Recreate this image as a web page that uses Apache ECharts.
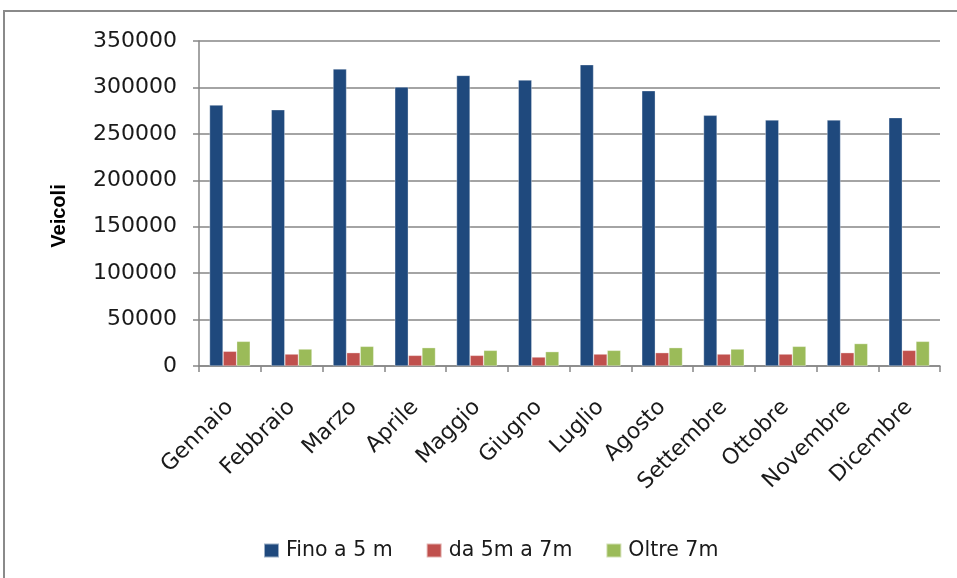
<!DOCTYPE html>
<html>
<head>
<meta charset="utf-8">
<script src="https://cdn.jsdelivr.net/npm/echarts@6/dist/echarts.min.js"></script>
<style>
html,body{margin:0;padding:0;background:#fff;}
#chart{width:957px;height:578px;}
</style>
</head>
<body>
<div id="chart"></div>
<script>
const categories = ['Gennaio','Febbraio','Marzo','Aprile','Maggio','Giugno','Luglio','Agosto','Settembre','Ottobre','Novembre','Dicembre'];
const fino5m = [281000, 276000, 320000, 300500, 313000, 308000, 324500, 296500, 270000, 265000, 265000, 267500];
const da5a7m = [15900, 12900, 14400, 11500, 11500, 9700, 12900, 14400, 12900, 12900, 14400, 16900];
const oltre7m = [26600, 18300, 21200, 19800, 16900, 15500, 16900, 19800, 18300, 21200, 24200, 26600];
const seriesNames = ['Fino a 5 m', 'da 5m a 7m', 'Oltre 7m'];
const colors = ['#1F497D', '#C0504D', '#9BBB59'];
const yTicks = {min: 0, max: 350000, interval: 50000};
const yTitle = 'Veicoli';

const chart = echarts.init(document.getElementById('chart'), null, {renderer: 'canvas'});
const barStyle = c => ({color: c, borderColor: 'rgba(255,255,255,0.55)', borderWidth: 0.6});
chart.setOption({
  animation: false,
  color: colors,
  graphic: [{
    type: 'rect',
    shape: {x: 4, y: 11, width: 960, height: 600},
    style: {fill: 'none', stroke: '#8a8a8a', lineWidth: 2},
    silent: true
  }, {
    type: 'text',
    x: 59, y: 216,
    rotation: Math.PI / 2,
    style: {text: yTitle, font: 'bold 20px "Liberation Sans"', fill: '#000', align: 'center', verticalAlign: 'middle'},
    silent: true
  }],
  grid: {left: 199, right: 17, top: 41, bottom: 212, containLabel: false},
  legend: {
    left: 258, top: 535,
    itemWidth: 15, itemHeight: 14, itemGap: 33,
    icon: 'rect',
    textStyle: {fontFamily: 'DejaVu Sans', fontSize: 20.5, color: '#1a1a1a', padding: [0,0,0,2]},
    data: seriesNames
  },
  xAxis: {
    type: 'category',
    data: categories,
    boundaryGap: true,
    axisLine: {lineStyle: {color: '#868686', width: 1.5}},
    axisTick: {show: true, alignWithLabel: false, length: 6, lineStyle: {color: '#868686', width: 1.5}},
    axisLabel: {rotate: 45, margin: 38, fontFamily: 'DejaVu Sans', fontSize: 22, color: '#1a1a1a', interval: 0}
  },
  yAxis: {
    type: 'value',
    min: yTicks.min, max: yTicks.max, interval: yTicks.interval,
    axisLine: {show: true, lineStyle: {color: '#868686', width: 1.5}},
    axisTick: {show: true, length: 6, lineStyle: {color: '#868686', width: 1.5}},
    splitLine: {show: true, lineStyle: {color: '#868686', width: 1.5}},
    axisLabel: {margin: 22, fontFamily: 'DejaVu Sans', fontSize: 22, color: '#1a1a1a', formatter: v => String(v)}
  },
  series: [
    {name: seriesNames[0], type: 'bar', data: fino5m, barGap: '0%', barCategoryGap: '34%', itemStyle: barStyle(colors[0])},
    {name: seriesNames[1], type: 'bar', data: da5a7m, barGap: '0%', barCategoryGap: '34%', itemStyle: barStyle(colors[1])},
    {name: seriesNames[2], type: 'bar', data: oltre7m, barGap: '0%', barCategoryGap: '34%', itemStyle: barStyle(colors[2])}
  ]
});
</script>
</body>
</html>
